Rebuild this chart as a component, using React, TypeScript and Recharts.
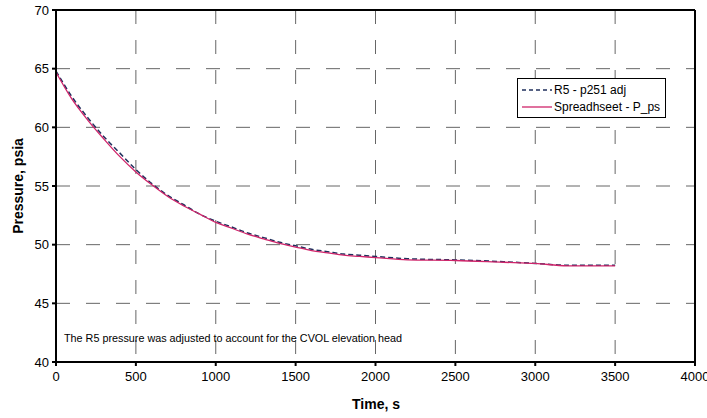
import React from 'react';
import {
  LineChart,
  Line,
  XAxis,
  YAxis,
  CartesianGrid,
  ReferenceLine,
} from 'recharts';

// Time, s
const times = [0, 100, 200, 300, 400, 500, 600, 700, 800, 900, 1000, 1100, 1200, 1300, 1400, 1500,
  1600, 1700, 1800, 1900, 2000, 2200, 2500, 2800, 3000, 3200, 3500];
// R5 - p251 adj, psia (dashed)
const r5Pressure = [64.8, 62.6, 60.8, 59.2, 57.8, 56.4, 55.2, 54.2, 53.4, 52.6, 52.0, 51.5, 51.0,
  50.6, 50.2, 49.9, 49.6, 49.4, 49.2, 49.1, 49.0, 48.8, 48.7, 48.55, 48.4, 48.25, 48.25];
// Spreadsheet - P_ps, psia (solid)
const spreadsheetPressure = [64.7, 62.4, 60.6, 59.0, 57.5, 56.2, 55.1, 54.1, 53.3, 52.6, 51.9, 51.4,
  50.9, 50.5, 50.1, 49.8, 49.5, 49.3, 49.1, 49.0, 48.9, 48.7, 48.65, 48.5, 48.4, 48.2, 48.2];

const xTicks = [0, 500, 1000, 1500, 2000, 2500, 3000, 3500, 4000];
const yTicks = [40, 45, 50, 55, 60, 65, 70];

const data = times.map((t, i) => ({ t, r5: r5Pressure[i], ps: spreadsheetPressure[i] }));

const FONT = '"Liberation Sans", Arial, sans-serif';
const DASH_COLOR = '#1f2f5c';
const PINK = '#d0246a';

const LegendBox = () => (
  <div
    style={{
      position: 'absolute',
      left: 517,
      top: 78,
      border: '1px solid #000',
      background: '#fff',
      fontFamily: FONT,
      fontSize: 12,
      color: '#000',
      padding: '2px 5px 2px 3px',
      whiteSpace: 'nowrap',
    }}
  >
    <div style={{ display: 'flex', alignItems: 'center', height: 17 }}>
      <svg width={32} height={6}>
        <line x1={1} y1={3} x2={31} y2={3} stroke={DASH_COLOR} strokeWidth={1.3} strokeDasharray="4 3" />
      </svg>
      <span style={{ marginLeft: 1 }}>R5 - p251 adj</span>
    </div>
    <div style={{ display: 'flex', alignItems: 'center', height: 17 }}>
      <svg width={32} height={6}>
        <line x1={1} y1={3} x2={31} y2={3} stroke={PINK} strokeWidth={1.3} />
      </svg>
      <span style={{ marginLeft: 1 }}>Spreadhseet - P_ps</span>
    </div>
  </div>
);

const textStyle: React.CSSProperties = {
  position: 'absolute',
  fontFamily: FONT,
  color: '#000',
  whiteSpace: 'nowrap',
};

export default function App() {
  return (
    <div style={{ position: 'absolute', left: 0, top: 0, width: 707, height: 418, background: '#fff', overflow: 'hidden' }}>
      <LineChart
        width={707}
        height={418}
        data={data}
        margin={{ top: 10, right: 12, bottom: 26, left: 0 }}
      >
        <CartesianGrid stroke="#666" strokeDasharray="14 16" strokeWidth={1} />
        <XAxis
          dataKey="t"
          type="number"
          domain={[0, 4000]}
          ticks={xTicks}
          interval={0}
          height={30}
          stroke="#000"
          strokeWidth={2}
          tickSize={4}
          tick={{ fill: '#000', fontSize: 13, fontFamily: FONT }}
          tickMargin={6}
        />
        <YAxis
          type="number"
          domain={[40, 70]}
          ticks={yTicks}
          interval={0}
          width={56}
          stroke="#000"
          strokeWidth={2}
          tickSize={4}
          tick={{ fill: '#000', fontSize: 13, fontFamily: FONT }}
          tickMargin={3}
        />
        <ReferenceLine y={70} stroke="#000" strokeWidth={2} />
        <ReferenceLine x={4000} stroke="#000" strokeWidth={2} />
        <Line
          type="monotone"
          dataKey="r5"
          stroke={DASH_COLOR}
          strokeWidth={1.5}
          strokeDasharray="5 3"
          dot={false}
          isAnimationActive={false}
        />
        <Line
          type="monotone"
          dataKey="ps"
          stroke={PINK}
          strokeWidth={1.3}
          dot={false}
          isAnimationActive={false}
        />
      </LineChart>
      <LegendBox />
      <div style={{ ...textStyle, left: 64, top: 332, fontSize: 10.8 }}>
        The R5 pressure was adjusted to account for the CVOL elevation head
      </div>
      <div style={{ ...textStyle, left: 352, top: 396, fontSize: 14, fontWeight: 'bold' }}>Time, s</div>
      <div
        style={{
          ...textStyle,
          left: 18,
          top: 186,
          fontSize: 14,
          fontWeight: 'bold',
          transform: 'translate(-50%, -50%) rotate(-90deg)',
        }}
      >
        Pressure, psia
      </div>
    </div>
  );
}
